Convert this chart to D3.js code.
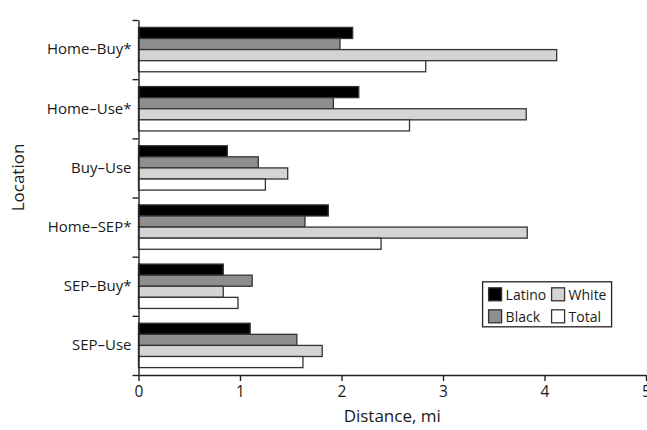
<!DOCTYPE html>
<html>
<head>
<meta charset="utf-8">
<script src="https://cdn.jsdelivr.net/npm/d3@7"></script>
<style>
  body { margin: 0; background: #fff; }
  svg text { font-family: "Open Sans", "DejaVu Sans", sans-serif; fill: #1a1a1a; }
</style>
</head>
<body>
<svg id="chart"></svg>
<script>
// data
var categories = ["Home\u2013Buy*", "Home\u2013Use*", "Buy\u2013Use", "Home\u2013SEP*", "SEP\u2013Buy*", "SEP\u2013Use"];
var series = ["Latino", "Black", "White", "Total"];
var latino = [2.11, 2.17, 0.875, 1.87, 0.835, 1.10];
var black  = [1.985, 1.92, 1.18, 1.64, 1.12, 1.56];
var white  = [4.12, 3.82, 1.47, 3.83, 0.835, 1.81];
var total  = [2.83, 2.67, 1.25, 2.39, 0.98, 1.62];
var xTicks = [0, 1, 2, 3, 4, 5];

var colors = {Latino: "#000000", Black: "#8e8e8e", White: "#d4d4d4", Total: "#ffffff"};

var margin = {top: 20, right: 1, bottom: 55, left: 138.5},
    width = 647 - margin.left - margin.right,
    height = 430 - margin.top - margin.bottom;

var rows = categories.map(function(c, i) {
  return {cat: c, Latino: latino[i], Black: black[i], White: white[i], Total: total[i]};
});

var xScale = d3.scaleLinear().domain([0, 5]).range([0, width]);
var y0 = d3.scaleBand().domain(categories).range([0, height])
  .paddingInner(0.25).paddingOuter(0.125);
var y1 = d3.scaleBand().domain(series).range([0, y0.bandwidth()]);
var yEdge = d3.scaleLinear().domain([0, categories.length]).range([0, height]);

var svgtop = d3.select("#chart")
  .attr("width", 647)
  .attr("height", 430);

var svg = svgtop.append("g")
  .attr("transform", "translate(" + margin.left + "," + margin.top + ")");

//bars
var groups = svg.selectAll(".grp")
  .data(rows)
  .enter().append("g")
  .attr("class", "grp")
  .attr("transform", function(d) { return "translate(0," + y0(d.cat) + ")"; });

groups.selectAll("rect")
  .data(function(d) { return series.map(function(s) { return {key: s, value: d[s]}; }); })
  .enter().append("rect")
  .attr("x", 0)
  .attr("y", function(d) { return y1(d.key); })
  .attr("width", function(d) { return xScale(d.value); })
  .attr("height", y1.bandwidth())
  .attr("fill", function(d) { return colors[d.key]; })
  .attr("stroke", "#333")
  .attr("stroke-width", 1.3);

//x axis
var xAxis = svg.append("g")
  .attr("class", "xaxis")
  .attr("transform", "translate(0," + height + ")")
  .call(d3.axisBottom(xScale).tickValues(xTicks).tickFormat(d3.format("d"))
    .tickSize(6).tickSizeOuter(0).tickPadding(5));
xAxis.selectAll("text").style("font-size", "15.5px");

//y axis: ticks at category boundaries
svg.append("g")
  .attr("class", "yaxis")
  .call(d3.axisLeft(yEdge).tickValues(d3.range(categories.length + 1))
    .tickFormat("").tickSize(6).tickSizeOuter(0));

//category labels
var yLab = svg.append("g")
  .call(d3.axisLeft(y0).tickSize(0).tickPadding(7));
yLab.select(".domain").remove();
yLab.selectAll("text").style("font-size", "15px");

svg.selectAll(".domain, .tick line").attr("stroke", "#222").attr("stroke-width", 1.4);

//axis titles
svg.append("text")
  .attr("x", width / 2)
  .attr("y", height + 47)
  .style("text-anchor", "middle")
  .style("font-size", "17px")
  .text("Distance, mi");

svg.append("text")
  .attr("transform", "rotate(-90)")
  .attr("x", 0 - height / 2 + 20)
  .attr("y", 0 - margin.left + 24)
  .style("text-anchor", "middle")
  .style("font-size", "17px")
  .text("Location");

//legend
var leg = svg.append("g")
  .attr("transform", "translate(" + (xScale(3.39)) + "," + (y0(categories[4]) + y0.bandwidth() * 0.4) + ")");

leg.append("rect")
  .attr("width", 129)
  .attr("height", 45)
  .attr("fill", "#fff")
  .attr("stroke", "#222")
  .attr("stroke-width", 1.3);

var legPos = [[6, 6], [6, 28], [69, 6], [69, 28]];
series.forEach(function(s, i) {
  leg.append("rect")
    .attr("x", legPos[i][0])
    .attr("y", legPos[i][1])
    .attr("width", 13)
    .attr("height", 13)
    .attr("fill", colors[s])
    .attr("stroke", "#333")
    .attr("stroke-width", 1.3);
  leg.append("text")
    .attr("x", legPos[i][0] + 17)
    .attr("y", legPos[i][1] + 7)
    .attr("dy", "0.35em")
    .style("font-size", "14px")
    .text(s);
});
</script>
</body>
</html>
